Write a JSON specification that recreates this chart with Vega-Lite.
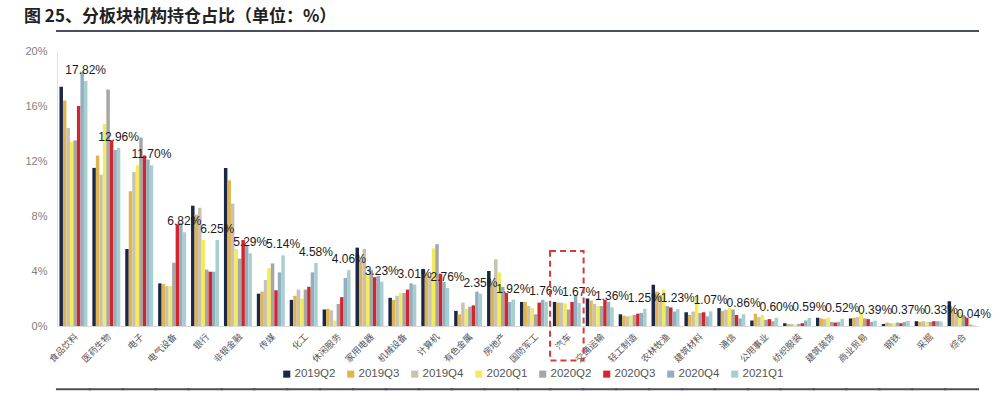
{
  "$schema": "https://vega.github.io/schema/vega-lite/v6.json",
  "autosize": "none",
  "width": 921,
  "height": 275,
  "padding": {"left": 57, "top": 51, "right": 22, "bottom": 68},
  "background": "white",
  "title": {
    "text": "图 25、分板块机构持仓占比（单位：%）",
    "anchor": "start",
    "frame": "group",
    "dx": -33,
    "offset": 4,
    "font": "Noto Sans CJK SC",
    "fontSize": 17,
    "fontWeight": "bold",
    "color": "#222222"
  },
  "datasets": {
    "bars": [
      {"c":"食品饮料","s":"2019Q2","v":17.4},{"c":"食品饮料","s":"2019Q3","v":16.4},{"c":"食品饮料","s":"2019Q4","v":14.4},{"c":"食品饮料","s":"2020Q1","v":13.4},{"c":"食品饮料","s":"2020Q2","v":13.5},{"c":"食品饮料","s":"2020Q3","v":16.0},{"c":"食品饮料","s":"2020Q4","v":18.5},{"c":"食品饮料","s":"2021Q1","v":17.82},
      {"c":"医药生物","s":"2019Q2","v":11.5},{"c":"医药生物","s":"2019Q3","v":12.4},{"c":"医药生物","s":"2019Q4","v":11.0},{"c":"医药生物","s":"2020Q1","v":14.7},{"c":"医药生物","s":"2020Q2","v":17.2},{"c":"医药生物","s":"2020Q3","v":13.5},{"c":"医药生物","s":"2020Q4","v":12.8},{"c":"医药生物","s":"2021Q1","v":12.96},
      {"c":"电子","s":"2019Q2","v":5.6},{"c":"电子","s":"2019Q3","v":9.8},{"c":"电子","s":"2019Q4","v":11.2},{"c":"电子","s":"2020Q1","v":11.7},{"c":"电子","s":"2020Q2","v":13.7},{"c":"电子","s":"2020Q3","v":12.4},{"c":"电子","s":"2020Q4","v":12.1},{"c":"电子","s":"2021Q1","v":11.70},
      {"c":"电气设备","s":"2019Q2","v":3.1},{"c":"电气设备","s":"2019Q3","v":3.05},{"c":"电气设备","s":"2019Q4","v":2.9},{"c":"电气设备","s":"2020Q1","v":2.9},{"c":"电气设备","s":"2020Q2","v":4.6},{"c":"电气设备","s":"2020Q3","v":7.4},{"c":"电气设备","s":"2020Q4","v":7.5},{"c":"电气设备","s":"2021Q1","v":6.82},
      {"c":"银行","s":"2019Q2","v":8.75},{"c":"银行","s":"2019Q3","v":8.1},{"c":"银行","s":"2019Q4","v":8.6},{"c":"银行","s":"2020Q1","v":6.25},{"c":"银行","s":"2020Q2","v":4.1},{"c":"银行","s":"2020Q3","v":3.95},{"c":"银行","s":"2020Q4","v":3.95},{"c":"银行","s":"2021Q1","v":6.25},
      {"c":"非银金融","s":"2019Q2","v":11.5},{"c":"非银金融","s":"2019Q3","v":10.6},{"c":"非银金融","s":"2019Q4","v":8.9},{"c":"非银金融","s":"2020Q1","v":5.6},{"c":"非银金融","s":"2020Q2","v":4.9},{"c":"非银金融","s":"2020Q3","v":6.25},{"c":"非银金融","s":"2020Q4","v":5.9},{"c":"非银金融","s":"2021Q1","v":5.29},
      {"c":"传媒","s":"2019Q2","v":2.35},{"c":"传媒","s":"2019Q3","v":2.5},{"c":"传媒","s":"2019Q4","v":3.35},{"c":"传媒","s":"2020Q1","v":4.2},{"c":"传媒","s":"2020Q2","v":4.55},{"c":"传媒","s":"2020Q3","v":2.6},{"c":"传媒","s":"2020Q4","v":3.9},{"c":"传媒","s":"2021Q1","v":5.14},
      {"c":"化工","s":"2019Q2","v":1.9},{"c":"化工","s":"2019Q3","v":2.2},{"c":"化工","s":"2019Q4","v":2.65},{"c":"化工","s":"2020Q1","v":2.0},{"c":"化工","s":"2020Q2","v":2.65},{"c":"化工","s":"2020Q3","v":2.85},{"c":"化工","s":"2020Q4","v":3.9},{"c":"化工","s":"2021Q1","v":4.58},
      {"c":"休闲服务","s":"2019Q2","v":1.2},{"c":"休闲服务","s":"2019Q3","v":1.25},{"c":"休闲服务","s":"2019Q4","v":1.15},{"c":"休闲服务","s":"2020Q1","v":0.4},{"c":"休闲服务","s":"2020Q2","v":1.6},{"c":"休闲服务","s":"2020Q3","v":2.1},{"c":"休闲服务","s":"2020Q4","v":3.5},{"c":"休闲服务","s":"2021Q1","v":4.06},
      {"c":"家用电器","s":"2019Q2","v":5.7},{"c":"家用电器","s":"2019Q3","v":4.75},{"c":"家用电器","s":"2019Q4","v":5.6},{"c":"家用电器","s":"2020Q1","v":3.8},{"c":"家用电器","s":"2020Q2","v":4.1},{"c":"家用电器","s":"2020Q3","v":3.55},{"c":"家用电器","s":"2020Q4","v":3.65},{"c":"家用电器","s":"2021Q1","v":3.23},
      {"c":"机械设备","s":"2019Q2","v":2.05},{"c":"机械设备","s":"2019Q3","v":1.9},{"c":"机械设备","s":"2019Q4","v":2.2},{"c":"机械设备","s":"2020Q1","v":2.4},{"c":"机械设备","s":"2020Q2","v":2.4},{"c":"机械设备","s":"2020Q3","v":2.65},{"c":"机械设备","s":"2020Q4","v":3.1},{"c":"机械设备","s":"2021Q1","v":3.01},
      {"c":"计算机","s":"2019Q2","v":4.15},{"c":"计算机","s":"2019Q3","v":3.8},{"c":"计算机","s":"2019Q4","v":3.65},{"c":"计算机","s":"2020Q1","v":5.65},{"c":"计算机","s":"2020Q2","v":5.95},{"c":"计算机","s":"2020Q3","v":3.8},{"c":"计算机","s":"2020Q4","v":3.2},{"c":"计算机","s":"2021Q1","v":2.76},
      {"c":"有色金属","s":"2019Q2","v":1.1},{"c":"有色金属","s":"2019Q3","v":0.85},{"c":"有色金属","s":"2019Q4","v":1.7},{"c":"有色金属","s":"2020Q1","v":1.25},{"c":"有色金属","s":"2020Q2","v":1.4},{"c":"有色金属","s":"2020Q3","v":1.5},{"c":"有色金属","s":"2020Q4","v":2.5},{"c":"有色金属","s":"2021Q1","v":2.35},
      {"c":"房地产","s":"2019Q2","v":4.0},{"c":"房地产","s":"2019Q3","v":3.1},{"c":"房地产","s":"2019Q4","v":4.85},{"c":"房地产","s":"2020Q1","v":3.9},{"c":"房地产","s":"2020Q2","v":2.85},{"c":"房地产","s":"2020Q3","v":2.4},{"c":"房地产","s":"2020Q4","v":1.75},{"c":"房地产","s":"2021Q1","v":1.92},
      {"c":"国防军工","s":"2019Q2","v":1.75},{"c":"国防军工","s":"2019Q3","v":1.75},{"c":"国防军工","s":"2019Q4","v":1.45},{"c":"国防军工","s":"2020Q1","v":1.3},{"c":"国防军工","s":"2020Q2","v":0.85},{"c":"国防军工","s":"2020Q3","v":1.7},{"c":"国防军工","s":"2020Q4","v":1.9},{"c":"国防军工","s":"2021Q1","v":1.76},
      {"c":"汽车","s":"2019Q2","v":1.75},{"c":"汽车","s":"2019Q3","v":1.7},{"c":"汽车","s":"2019Q4","v":1.7},{"c":"汽车","s":"2020Q1","v":1.65},{"c":"汽车","s":"2020Q2","v":1.2},{"c":"汽车","s":"2020Q3","v":1.75},{"c":"汽车","s":"2020Q4","v":2.25},{"c":"汽车","s":"2021Q1","v":1.67},
      {"c":"交通运输","s":"2019Q2","v":2.0},{"c":"交通运输","s":"2019Q3","v":1.85},{"c":"交通运输","s":"2019Q4","v":1.6},{"c":"交通运输","s":"2020Q1","v":1.45},{"c":"交通运输","s":"2020Q2","v":1.45},{"c":"交通运输","s":"2020Q3","v":1.9},{"c":"交通运输","s":"2020Q4","v":1.75},{"c":"交通运输","s":"2021Q1","v":1.36},
      {"c":"轻工制造","s":"2019Q2","v":0.85},{"c":"轻工制造","s":"2019Q3","v":0.75},{"c":"轻工制造","s":"2019Q4","v":0.7},{"c":"轻工制造","s":"2020Q1","v":0.75},{"c":"轻工制造","s":"2020Q2","v":0.8},{"c":"轻工制造","s":"2020Q3","v":0.9},{"c":"轻工制造","s":"2020Q4","v":0.95},{"c":"轻工制造","s":"2021Q1","v":1.25},
      {"c":"农林牧渔","s":"2019Q2","v":3.0},{"c":"农林牧渔","s":"2019Q3","v":2.5},{"c":"农林牧渔","s":"2019Q4","v":2.25},{"c":"农林牧渔","s":"2020Q1","v":2.65},{"c":"农林牧渔","s":"2020Q2","v":1.45},{"c":"农林牧渔","s":"2020Q3","v":1.35},{"c":"农林牧渔","s":"2020Q4","v":1.05},{"c":"农林牧渔","s":"2021Q1","v":1.23},
      {"c":"建筑材料","s":"2019Q2","v":1.0},{"c":"建筑材料","s":"2019Q3","v":0.8},{"c":"建筑材料","s":"2019Q4","v":1.05},{"c":"建筑材料","s":"2020Q1","v":2.1},{"c":"建筑材料","s":"2020Q2","v":0.95},{"c":"建筑材料","s":"2020Q3","v":1.0},{"c":"建筑材料","s":"2020Q4","v":0.7},{"c":"建筑材料","s":"2021Q1","v":1.07},
      {"c":"通信","s":"2019Q2","v":1.3},{"c":"通信","s":"2019Q3","v":1.1},{"c":"通信","s":"2019Q4","v":1.2},{"c":"通信","s":"2020Q1","v":1.3},{"c":"通信","s":"2020Q2","v":1.2},{"c":"通信","s":"2020Q3","v":0.8},{"c":"通信","s":"2020Q4","v":0.55},{"c":"通信","s":"2021Q1","v":0.86},
      {"c":"公用事业","s":"2019Q2","v":0.4},{"c":"公用事业","s":"2019Q3","v":0.9},{"c":"公用事业","s":"2019Q4","v":0.65},{"c":"公用事业","s":"2020Q1","v":0.8},{"c":"公用事业","s":"2020Q2","v":0.45},{"c":"公用事业","s":"2020Q3","v":0.5},{"c":"公用事业","s":"2020Q4","v":0.35},{"c":"公用事业","s":"2021Q1","v":0.60},
      {"c":"纺织服装","s":"2019Q2","v":0.2},{"c":"纺织服装","s":"2019Q3","v":0.15},{"c":"纺织服装","s":"2019Q4","v":0.15},{"c":"纺织服装","s":"2020Q1","v":0.1},{"c":"纺织服装","s":"2020Q2","v":0.15},{"c":"纺织服装","s":"2020Q3","v":0.2},{"c":"纺织服装","s":"2020Q4","v":0.4},{"c":"纺织服装","s":"2021Q1","v":0.59},
      {"c":"建筑装饰","s":"2019Q2","v":0.6},{"c":"建筑装饰","s":"2019Q3","v":0.55},{"c":"建筑装饰","s":"2019Q4","v":0.5},{"c":"建筑装饰","s":"2020Q1","v":0.6},{"c":"建筑装饰","s":"2020Q2","v":0.3},{"c":"建筑装饰","s":"2020Q3","v":0.25},{"c":"建筑装饰","s":"2020Q4","v":0.3},{"c":"建筑装饰","s":"2021Q1","v":0.52},
      {"c":"商业贸易","s":"2019Q2","v":0.55},{"c":"商业贸易","s":"2019Q3","v":0.6},{"c":"商业贸易","s":"2019Q4","v":0.65},{"c":"商业贸易","s":"2020Q1","v":1.0},{"c":"商业贸易","s":"2020Q2","v":0.55},{"c":"商业贸易","s":"2020Q3","v":0.5},{"c":"商业贸易","s":"2020Q4","v":0.3},{"c":"商业贸易","s":"2021Q1","v":0.39},
      {"c":"钢铁","s":"2019Q2","v":0.15},{"c":"钢铁","s":"2019Q3","v":0.25},{"c":"钢铁","s":"2019Q4","v":0.2},{"c":"钢铁","s":"2020Q1","v":0.2},{"c":"钢铁","s":"2020Q2","v":0.25},{"c":"钢铁","s":"2020Q3","v":0.2},{"c":"钢铁","s":"2020Q4","v":0.3},{"c":"钢铁","s":"2021Q1","v":0.37},
      {"c":"采掘","s":"2019Q2","v":0.35},{"c":"采掘","s":"2019Q3","v":0.3},{"c":"采掘","s":"2019Q4","v":0.35},{"c":"采掘","s":"2020Q1","v":0.3},{"c":"采掘","s":"2020Q2","v":0.3},{"c":"采掘","s":"2020Q3","v":0.35},{"c":"采掘","s":"2020Q4","v":0.35},{"c":"采掘","s":"2021Q1","v":0.33},
      {"c":"综合","s":"2019Q2","v":1.8},{"c":"综合","s":"2019Q3","v":1.2},{"c":"综合","s":"2019Q4","v":0.9},{"c":"综合","s":"2020Q1","v":1.0},{"c":"综合","s":"2020Q2","v":0.8},{"c":"综合","s":"2020Q3","v":0.6},{"c":"综合","s":"2020Q4","v":0.1},{"c":"综合","s":"2021Q1","v":0.04}
    ],
    "box": [{"c": "汽车", "top": 5.45, "bottom": -2.5}]
  },
  "layer": [
    {
      "data": {"name": "bars"},
      "mark": {"type": "bar"},
      "encoding": {
        "x": {
          "field": "c",
          "type": "nominal",
          "sort": null,
          "scale": {"paddingInner": 0.15, "paddingOuter": 0.075},
          "axis": {
            "title": null,
            "labelAngle": -45,
            "labelFontSize": 9,
            "labelColor": "#555555",
            "labelFont": "Noto Sans CJK SC",
            "labelPadding": 6,
            "ticks": false,
            "domain": true,
            "domainColor": "#d9d9d9"
          }
        },
        "xOffset": {"field": "s", "type": "nominal", "sort": null, "scale": {"paddingInner": 0, "paddingOuter": 0}},
        "y": {
          "field": "v",
          "type": "quantitative",
          "scale": {"domain": [0, 20]},
          "axis": {
            "title": null,
            "values": [0, 2, 4, 6, 8, 10, 12, 14, 16, 18, 20],
            "labelExpr": "datum.value + '%'",
            "labelFontSize": 11,
            "labelColor": "#808080",
            "labelFont": "Liberation Sans",
            "labelPadding": 10,
            "ticks": false,
            "grid": false,
            "domain": true,
            "domainColor": "#e0e0e0"
          }
        },
        "color": {
          "field": "s",
          "type": "nominal",
          "sort": null,
          "scale": {
            "domain": ["2019Q2","2019Q3","2019Q4","2020Q1","2020Q2","2020Q3","2020Q4","2021Q1"],
            "range": ["#1b2746","#e0b550","#c9c2b2","#f3ea5c","#a6a6a6","#d1262e","#93aebf","#a8cfd0"]
          },
          "legend": {
            "title": null,
            "orient": "none",
            "legendX": 224,
            "legendY": 317,
            "direction": "horizontal",
            "symbolType": "square",
            "symbolSize": 50,
            "symbolStrokeWidth": 0,
            "labelFontSize": 11.5,
            "labelColor": "#555555",
            "labelFont": "Liberation Sans",
            "labelOffset": 2,
            "columnPadding": 9
          }
        }
      }
    },
    {
      "data": {"name": "bars"},
      "transform": [{"filter": "datum.s === '2021Q1'"}, {"calculate": "format(datum.v, '.2f') + '%'", "as": "lab"}],
      "mark": {"type": "text", "baseline": "bottom", "dy": -4, "fontSize": 12, "font": "Liberation Sans", "color": "#1a1a1a"},
      "encoding": {
        "x": {"field": "c", "type": "nominal", "sort": null},
        "xOffset": {"field": "s", "type": "nominal", "sort": null, "scale": {"domain": ["2019Q2","2019Q3","2019Q4","2020Q1","2020Q2","2020Q3","2020Q4","2021Q1"]}},
        "y": {"field": "v", "type": "quantitative"},
        "text": {"field": "lab", "type": "nominal"}
      }
    },
    {
      "data": {"name": "box"},
      "mark": {"type": "bar", "fill": null, "stroke": "#d63a3a", "strokeWidth": 2, "strokeDash": [6, 4], "clip": false, "width": {"band": 1.2}},
      "encoding": {
        "x": {"field": "c", "type": "nominal", "sort": null},
        "y": {"field": "top", "type": "quantitative"},
        "y2": {"field": "bottom"}
      }
    },
    {
      "data": {"name": "bars"},
      "transform": [{"filter": "datum.s === '2021Q1'"}],
      "mark": {"type": "tick", "color": "#4a4f5e", "thickness": 2, "size": 35, "opacity": 1, "clip": false},
      "encoding": {
        "x": {"field": "c", "type": "nominal", "sort": null},
        "y": {"datum": 21.45}
      }
    },
    {
      "data": {"name": "bars"},
      "transform": [{"filter": "datum.s === '2021Q1'"}],
      "mark": {"type": "tick", "color": "#4a4f5e", "thickness": 2, "size": 35, "opacity": 1, "clip": false},
      "encoding": {
        "x": {"field": "c", "type": "nominal", "sort": null},
        "y": {"datum": -4.6}
      }
    }
  ],
  "config": {"view": {"stroke": null}, "font": "Liberation Sans"}
}
